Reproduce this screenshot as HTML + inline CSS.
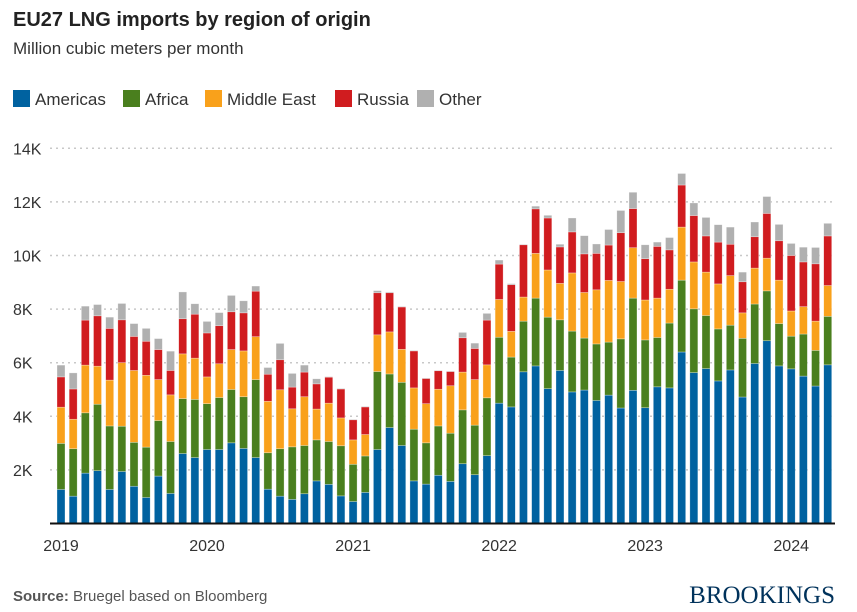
<!DOCTYPE html>
<html><head><meta charset="utf-8"><style>
body{margin:0;background:#fff;font-family:"Liberation Sans",sans-serif;}
#wrap{position:relative;width:857px;height:612px;overflow:hidden;}
</style></head><body>
<div id="wrap">
<svg id="c" width="857" height="612" xmlns="http://www.w3.org/2000/svg">
<text x="13" y="26" font-size="20" font-weight="bold" fill="#222">EU27 LNG imports by region of origin</text>
<text x="13" y="54" font-size="17" fill="#333">Million cubic meters per month</text>
<g id="legend"></g>
<g id="grid"></g>
<g id="bars"></g>
<g id="xaxis"></g>
<text x="13" y="601" font-size="15" fill="#555"><tspan font-weight="bold">Source:</tspan> Bruegel based on Bloomberg</text>
<text x="835" y="603" font-size="25" text-anchor="end" fill="#00325b" font-family="Liberation Serif,serif">BROOKINGS</text>
</svg></div>
<script>
const seriesNames=["Americas","Africa","Middle East","Russia","Other"];
const colors=["#0062a0","#4a7f1e","#f9a11b","#d01c1f","#b0b0b0"];
const americas=[1.27,1.02,1.88,1.97,1.27,1.94,1.39,0.97,1.77,1.12,2.61,2.46,2.76,2.76,3.01,2.80,2.46,1.28,1.02,0.90,1.11,1.59,1.46,1.03,0.82,1.16,2.76,3.58,2.91,1.59,1.47,1.80,1.57,2.23,1.82,2.53,4.49,4.35,5.66,5.88,5.03,5.71,4.91,4.98,4.59,4.79,4.31,4.97,4.32,5.10,5.06,6.40,5.63,5.78,5.32,5.73,4.72,5.97,6.82,5.88,5.77,5.50,5.13,5.92];
const africa=[1.72,1.77,2.25,2.48,2.37,1.69,1.64,1.88,2.07,1.94,2.05,2.17,1.71,1.94,1.99,1.93,2.91,1.36,1.77,1.96,1.80,1.53,1.60,1.87,1.39,1.36,2.91,2.00,2.36,1.93,1.54,1.84,1.80,2.01,1.85,2.16,2.46,1.86,1.89,2.53,2.67,1.89,2.27,1.94,2.11,1.98,2.58,3.44,2.53,1.84,2.42,2.68,2.38,1.98,1.94,1.67,2.19,2.22,1.86,1.58,1.22,1.57,1.33,1.81];
const middleEast=[1.35,1.10,1.78,1.42,1.71,2.37,2.68,2.68,1.53,1.74,1.67,1.54,1.00,1.26,1.49,1.71,1.60,1.92,2.20,1.42,1.82,1.15,1.43,1.04,0.91,0.80,1.37,1.57,1.23,1.54,1.46,1.37,1.77,1.41,1.70,1.23,1.41,0.96,0.90,1.67,1.76,1.36,2.17,1.70,2.02,2.30,2.14,1.88,1.49,1.47,1.26,1.98,1.75,1.62,1.68,1.85,0.95,1.34,1.22,1.62,0.94,1.02,1.09,1.15];
const russia=[1.13,1.13,1.68,1.88,1.93,1.60,1.27,1.27,1.12,0.91,1.31,1.64,1.64,1.42,1.41,1.42,1.70,1.01,1.12,0.81,0.92,0.94,0.97,1.08,0.75,1.03,1.57,1.46,1.58,1.38,0.94,0.69,0.53,1.28,1.16,1.67,1.32,1.74,1.95,1.66,1.94,1.36,1.53,1.44,1.36,1.32,1.82,1.46,1.54,1.93,1.47,1.57,1.73,1.35,1.56,1.17,1.16,1.17,1.67,1.47,2.07,1.67,2.14,1.85];
const other=[0.44,0.60,0.52,0.42,0.42,0.61,0.48,0.48,0.41,0.72,1.00,0.39,0.43,0.49,0.61,0.45,0.19,0.25,0.61,0.51,0.26,0.19,0.02,0.02,0.02,0.02,0.08,0.03,0.02,0.02,0.02,0.02,0.02,0.20,0.20,0.25,0.15,0.04,0.02,0.10,0.10,0.10,0.52,0.68,0.35,0.58,0.83,0.61,0.52,0.16,0.46,0.43,0.47,0.69,0.65,0.64,0.36,0.55,0.63,0.61,0.45,0.55,0.61,0.47];
const yTicks=[2,4,6,8,10,12,14];
const yTickLabels=["2K","4K","6K","8K","10K","12K","14K"];
const yearLabels=["2019","2020","2021","2022","2023","2024"];

const NS="http://www.w3.org/2000/svg";
const y0=523.5, pxPerK=26.8, x0=61, step=12.17, bw=8;
function yScale(v){return y0-v*pxPerK;}
function xScale(i){return x0+i*step;}
function mk(tag,attrs,parent){const e=document.createElementNS(NS,tag);for(const k in attrs)e.setAttribute(k,attrs[k]);parent.appendChild(e);return e;}

const grid=document.getElementById('grid');
yTicks.forEach((t,i)=>{
  const l=mk('line',{x1:50,x2:835,y1:yScale(t),y2:yScale(t),stroke:'#c8c8c8','stroke-width':1.5,'stroke-dasharray':'2,4'},grid);
  
  
  const tx=mk('text',{x:13,y:yScale(t)+6,'font-size':16,fill:'#333'},grid);
  tx.textContent=yTickLabels[i];
  
  
});

const bars=document.getElementById('bars');
const all=[americas,africa,middleEast,russia,other];
for(let i=0;i<americas.length;i++){
  let cum=0;
  for(let s=0;s<5;s++){
    const v=all[s][i];
    const r=mk('rect',{x:xScale(i)-bw/2,y:yScale(cum+v),width:bw,height:v*pxPerK,fill:colors[s],stroke:'rgba(255,255,255,0.5)','stroke-width':0.6},bars);
    
    
    cum+=v;
  }
}

const xa=document.getElementById('xaxis');
const bl=mk('line',{x1:50,x2:835,y1:y0,y2:y0,stroke:'#111','stroke-width':2},xa);


yearLabels.forEach((lab,i)=>{
  const t=mk('text',{x:xScale(i*12),y:551,'font-size':16,fill:'#333','text-anchor':'middle'},xa);
  t.textContent=lab;
  
  
});

const lg=document.getElementById('legend');
let lx=13;
const widths=[110,82,130,82,80];
seriesNames.forEach((n,i)=>{
  const r=mk('rect',{x:lx,y:90,width:17,height:17,fill:colors[i]},lg);
  
  
  const t=mk('text',{x:lx+22,y:105,'font-size':17,fill:'#333'},lg);
  t.textContent=n;
  
  
  lx+=widths[i];
});
</script>
</body></html>
